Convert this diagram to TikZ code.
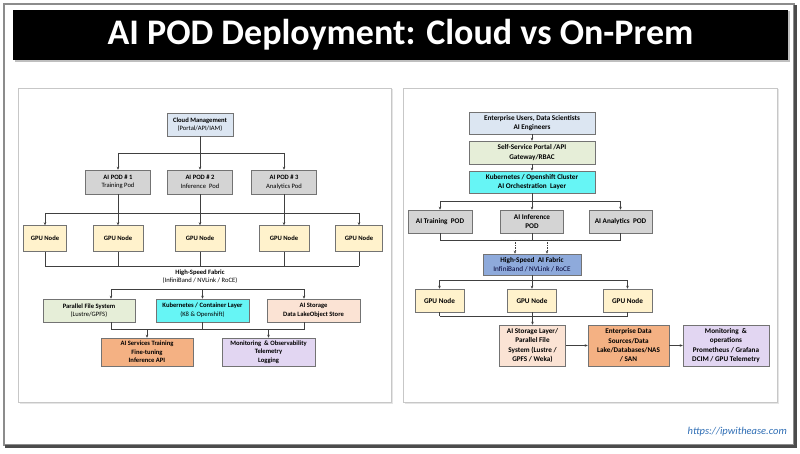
\documentclass[tikz,border=0pt]{standalone}
\usepackage{fontspec}
\setmainfont{Carlito}
\usetikzlibrary{arrows.meta}
\definecolor{cmblue}{HTML}{DCE6F2}
\definecolor{podgray}{HTML}{D4D4D4}
\definecolor{gpuy}{HTML}{FFF2CC}
\definecolor{lgreen}{HTML}{E6EED8}
\definecolor{kcyan}{HTML}{66F5F5}
\definecolor{peach}{HTML}{FBE3D4}
\definecolor{orng}{HTML}{F4B183}
\definecolor{lav}{HTML}{E2D6F2}
\definecolor{fabblue}{HTML}{8EAADB}
\definecolor{linkblue}{HTML}{2F6EB5}
\begin{document}
\begin{tikzpicture}[x=1pt,y=-1pt,
  box/.style={draw=black!55, line width=0.5pt, align=center, inner sep=1pt, text=black},
  lfont/.style={font=\fontsize{6.6}{8.6}\selectfont\bfseries},
  rfont/.style={font=\fontsize{7.2}{9.3}\selectfont\bfseries},
  conn/.style={draw=black!75, line width=0.6pt},
  arr/.style={conn, -{Stealth[length=3pt,width=2.6pt]}},
  panel/.style={fill=white, draw=black!22, line width=0.6pt}]
\useasboundingbox (0,0) rectangle (800,454);
\fill[white] (0,0) rectangle (800,454);
% outer frame
\draw[black!45, line width=1.4pt] (4,4) rectangle (794,445);
\draw[black!70, line width=2.6pt] (5,446.5) -- (795.5,446.5) -- (795.5,5);
% title
\fill[black!25] (14.5,11.5) rectangle (790,62);
\node[fill=black, minimum width=775, minimum height=50, inner sep=0pt, text=white,
      font=\fontsize{36}{40}\selectfont\bfseries] (title) at (400.5,35) {AI POD Deployment: Cloud vs On-Prem};
% panels
\fill[black!10] (19.5,89.5) rectangle (393,404);
\fill[black!10] (404.5,89.5) rectangle (779,404);
\path[panel] (18,88) rectangle (391,402);
\path[panel] (403,88) rectangle (777,402);

% ===== LEFT PANEL =====
\node[box, lfont, fill=cmblue, minimum width=66, minimum height=23] (cm) at (200,124.5) {Cloud Management\\{\mdseries (Portal/API/IAM)}};
\node[box, lfont, fill=podgray, minimum width=65, minimum height=24] (p1) at (118,182) {AI POD \# 1\\{\mdseries Training Pod}};
\node[box, lfont, fill=podgray, minimum width=65, minimum height=24] (p2) at (200,182) {AI POD \# 2\\{\mdseries Inference\ \ Pod}};
\node[box, lfont, fill=podgray, minimum width=65, minimum height=24] (p3) at (284,182) {AI POD \# 3\\{\mdseries Analytics Pod}};
\node[box, lfont, fill=gpuy, minimum width=43, minimum height=26] (g1) at (45,238.5) {GPU Node};
\node[box, lfont, fill=gpuy, minimum width=50, minimum height=26] (g2) at (118,238.5) {GPU Node};
\node[box, lfont, fill=gpuy, minimum width=50, minimum height=26] (g3) at (200,238.5) {GPU Node};
\node[box, lfont, fill=gpuy, minimum width=50, minimum height=26] (g4) at (284,238.5) {GPU Node};
\node[box, lfont, fill=gpuy, minimum width=47, minimum height=26] (g5) at (359,238.5) {GPU Node};
\node[lfont, align=center, inner sep=0pt] (lfab) at (200,276.5) {High-Speed Fabric\\{\mdseries (InfiniBand / NVLink / RoCE)}};
\node[box, lfont, fill=lgreen, minimum width=92, minimum height=23] (pfs) at (89,310.5) {Parallel File System\\{\mdseries (Lustre/GPFS)}};
\node[box, lfont, fill=kcyan, minimum width=93, minimum height=23] (lk8) at (202.5,310.5) {Kubernetes / Container Layer\\{\mdseries (K8 \& Openshift)}};
\node[box, lfont, fill=peach, minimum width=93, minimum height=23] (lsto) at (313.5,310.5) {AI Storage\\Data LakeObject Store};
\node[box, lfont, fill=orng, minimum width=92, minimum height=28] (svc) at (147,352) {AI Services Training\\Fine-tuning\\Inference API};
\node[box, lfont, fill=lav, minimum width=93, minimum height=28] (lmon) at (268.5,352) {Monitoring\ \ \& Observability\\Telemetry\\Logging};

\coordinate (lb1) at (0,153);
\draw[conn] (cm.south) -- (cm.south |- lb1);
\draw[conn] (p1.north |- lb1) -- (p3.north |- lb1);
\foreach \p in {p1,p2,p3} \draw[arr] (\p.north |- lb1) -- (\p.north);
\coordinate (lb2) at (0,213);
\foreach \p in {p1,p2,p3} \draw[conn] (\p.south) -- (\p.south |- lb2);
\draw[conn] (g1.north |- lb2) -- (g5.north |- lb2);
\foreach \g in {g1,g2,g3,g4,g5} \draw[arr] (\g.north |- lb2) -- (\g.north);
\coordinate (lb3) at (0,266);
\foreach \g in {g1,g2,g3,g4,g5} \draw[conn] (\g.south) -- (\g.south |- lb3);
\draw[conn] (g1.south |- lb3) -- (g5.south |- lb3);
\coordinate (lb4a) at (111,289);
\coordinate (lb4b) at (304,289);
\draw[conn] (lb4a) -- (lb4b);
\draw[arr] (lb4a) -- (lb4a |- pfs.north);
\draw[arr] (lk8.north |- lb4a) -- (lk8.north);
\draw[arr] (lb4b) -- (lb4b |- lsto.north);
\coordinate (lb5a) at (111,329);
\coordinate (lb5b) at (304,329);
\draw[conn] (lb5a |- pfs.south) -- (lb5a) -- (lb5b) -- (lb5b |- lsto.south);
\draw[conn] (lk8.south) -- (lk8.south |- lb5a);
\draw[arr] (svc.north |- lb5a) -- (svc.north);
\draw[arr] (lmon.north |- lb5a) -- (lmon.north);

% ===== RIGHT PANEL =====
\node[box, rfont, fill=cmblue, minimum width=126, minimum height=22] (eu) at (532,123) {Enterprise Users, Data Scientists\\AI Engineers};
\node[box, rfont, fill=lgreen, minimum width=126, minimum height=23] (ssp) at (532,152.5) {Self-Service Portal /API\\Gateway/RBAC};
\node[box, rfont, fill=kcyan, minimum width=126, minimum height=22] (rk8) at (532,182) {Kubernetes / Openshift Cluster\\AI Orchestration\ \ Layer};
\node[box, rfont, fill=podgray, minimum width=64, minimum height=23] (tp) at (440,221.5) {AI Training\ \ POD};
\node[box, rfont, fill=podgray, minimum width=63, minimum height=23] (ip) at (532,221.5) {AI Inference\\POD};
\node[box, rfont, fill=podgray, minimum width=63, minimum height=23] (ap) at (620.5,221.5) {AI Analytics\ \ POD};
\node[box, rfont, fill=fabblue, minimum width=98, minimum height=21] (rfab) at (532,264.5) {High-Speed\ \ AI Fabric\\{\mdseries\color{black!80!blue} InfiniBand / NVLink / RoCE}};
\node[box, rfont, fill=gpuy, minimum width=49, minimum height=23] (rg1) at (439.5,300.5) {GPU Node};
\node[box, rfont, fill=gpuy, minimum width=49, minimum height=23] (rg2) at (532,300.5) {GPU Node};
\node[box, rfont, fill=gpuy, minimum width=49, minimum height=23] (rg3) at (627.5,300.5) {GPU Node};
\node[box, rfont, fill=peach, minimum width=66, minimum height=41] (rsto) at (532.5,345.5) {AI Storage Layer/\\Parallel File\\System (Lustre /\\GPFS / Weka)};
\node[box, rfont, fill=orng, minimum width=81, minimum height=41] (eds) at (628.5,345.5) {Enterprise Data\\Sources/Data\\Lake/Databases/NAS\\/ SAN};
\node[box, rfont, fill=lav, minimum width=86, minimum height=41] (rmon) at (726,345.5) {Monitoring\ \ \&\\operations\\Prometheus / Grafana\\DCIM / GPU Telemetry};

\draw[arr] (eu.south) -- (ssp.north);
\draw[arr] (ssp.south) -- (rk8.north);
\coordinate (rb1) at (0,201);
\draw[conn] (rk8.south) -- (rk8.south |- rb1);
\draw[conn] (tp.north |- rb1) -- (ap.north |- rb1);
\foreach \p in {tp,ip,ap} \draw[arr] (\p.north |- rb1) -- (\p.north);
\coordinate (rb2) at (0,240);
\foreach \p in {tp,ip,ap} \draw[conn] (\p.south) -- (\p.south |- rb2);
\draw[conn] (tp.south |- rb2) -- (ap.south |- rb2);
\coordinate (d1) at (515,240);
\coordinate (d2) at (547,240);
\draw[arr, dashed, dash pattern=on 1.5pt off 1pt] (d1) -- (d1 |- rfab.north);
\draw[arr, dashed, dash pattern=on 1.5pt off 1pt] (d2) -- (d2 |- rfab.north);
\coordinate (rb3) at (0,280);
\draw[conn] (rfab.south) -- (rfab.south |- rb3);
\draw[conn] (rg1.north |- rb3) -- (rg3.north |- rb3);
\foreach \g in {rg1,rg2,rg3} \draw[arr] (\g.north |- rb3) -- (\g.north);
\coordinate (rb4) at (0,316);
\foreach \g in {rg1,rg2,rg3} \draw[conn] (\g.south) -- (\g.south |- rb4);
\draw[conn] (rg1.south |- rb4) -- (rg3.south |- rb4);
\draw[arr] (rsto.north |- rb4) -- (rsto.north);
\draw[arr] (rsto.east) -- (eds.west);
\draw[arr] (eds.east) -- (rmon.west);

% footer
\node[anchor=east, inner sep=0pt, font=\fontsize{10.5}{12}\selectfont\itshape, text=linkblue] (url) at (787,432) {https://ipwithease.com};
\end{tikzpicture}
\end{document}
